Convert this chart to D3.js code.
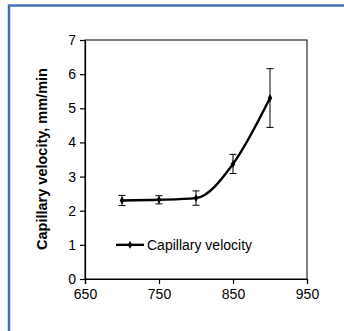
<!DOCTYPE html>
<html>
<head>
<meta charset="utf-8">
<script src="https://cdn.jsdelivr.net/npm/d3@7"></script>
<style>
  body { margin: 0; background: #fff; }
  text { font-family: "Liberation Sans", Arial, sans-serif; fill: #000; }
</style>
</head>
<body>
<div id="chart"></div>
<script>
var temps = [700, 750, 800, 850, 900],
    velocity = [2.3, 2.32, 2.37, 3.37, 5.3],
    errors = [0.15, 0.12, 0.21, 0.28, 0.86],
    xTicks = [650, 750, 850, 950],
    yTicks = [0, 1, 2, 3, 4, 5, 6, 7],
    seriesName = "Capillary velocity",
    yTitle = "Capillary velocity, mm/min";

var w = 344, h = 331,
    margin = { top: 40, left: 85, right: 37, bottom: 52 },
    width = w - margin.left - margin.right,
    height = h - margin.top - margin.bottom;

var svg = d3.select("#chart")
    .append("svg")
    .attr("width", w)
    .attr("height", h);

// blue frame
svg.append("path")
    .attr("d", "M9," + h + " V5.5 H" + (w + 5))
    .attr("fill", "none")
    .attr("stroke", "#4472b4")
    .attr("stroke-width", 2.5);

var chart = svg.append("g")
    .attr("transform", "translate(" + margin.left + "," + margin.top + ")");

var xScale = d3.scaleLinear().domain([650, 950]).range([0, width]);
var yScale = d3.scaleLinear().domain([0, 7]).range([height, 0]);

// plot box
chart.append("rect")
    .attr("width", width)
    .attr("height", height)
    .attr("fill", "none")
    .attr("stroke", "#000")
    .attr("stroke-width", 1);

var xAxis = chart.append("g")
    .attr("transform", "translate(0," + height + ")")
    .call(d3.axisBottom(xScale).tickValues(xTicks).tickFormat(d3.format("d"))
        .tickSize(5).tickPadding(5));

var yAxis = chart.append("g")
    .call(d3.axisLeft(yScale).tickValues(yTicks).tickFormat(d3.format("d"))
        .tickSize(5).tickPadding(4));

[xAxis, yAxis].forEach(function (a) {
    a.attr("font-size", 14).attr("font-family", "Liberation Sans, Arial, sans-serif");
    a.select(".domain").attr("stroke-width", 1.2);
    a.selectAll("line").attr("stroke-width", 1.2);
    a.selectAll("text").attr("fill", "#000");
});

chart.append("text")
    .attr("transform", "translate(" + (-38) + "," + (height / 2 - 0.5) + ") rotate(-90)")
    .attr("text-anchor", "middle")
    .attr("font-size", 14.5)
    .attr("font-weight", "bold")
    .text(yTitle);

var data = temps.map(function (t, i) {
    return { x: t, y: velocity[i], e: errors[i] };
});

// error bars
var eb = chart.selectAll(".err")
    .data(data)
    .enter().append("g")
    .attr("class", "err")
    .attr("stroke", "#000")
    .attr("stroke-width", 1);

eb.append("line")
    .attr("x1", function (d) { return xScale(d.x); })
    .attr("x2", function (d) { return xScale(d.x); })
    .attr("y1", function (d) { return yScale(d.y + d.e); })
    .attr("y2", function (d) { return yScale(d.y - d.e); });

[1, -1].forEach(function (s) {
    eb.append("line")
        .attr("x1", function (d) { return xScale(d.x) - 3.5; })
        .attr("x2", function (d) { return xScale(d.x) + 3.5; })
        .attr("y1", function (d) { return yScale(d.y + s * d.e); })
        .attr("y2", function (d) { return yScale(d.y + s * d.e); });
});

var line = d3.line()
    .x(function (d) { return xScale(d.x); })
    .y(function (d) { return yScale(d.y); })
    .curve(d3.curveMonotoneX);

chart.append("path")
    .datum(data)
    .attr("d", line)
    .attr("fill", "none")
    .attr("stroke", "#000")
    .attr("stroke-width", 2.4);

var diamond = d3.symbol().type(d3.symbolDiamond).size(18);

chart.selectAll(".pt")
    .data(data)
    .enter().append("path")
    .attr("class", "pt")
    .attr("d", diamond)
    .attr("transform", function (d) {
        return "translate(" + xScale(d.x) + "," + yScale(d.y) + ")";
    })
    .attr("fill", "#000");

// legend
var ly = yScale(1);
var legend = chart.append("g");
legend.append("line")
    .attr("x1", 31).attr("x2", 59)
    .attr("y1", ly).attr("y2", ly)
    .attr("stroke", "#000")
    .attr("stroke-width", 2.4);
legend.append("path")
    .attr("d", diamond)
    .attr("transform", "translate(45," + ly + ")")
    .attr("fill", "#000");
legend.append("text")
    .attr("x", 62)
    .attr("y", ly + 5)
    .attr("font-size", 14)
    .text(seriesName);
</script>
</body>
</html>
